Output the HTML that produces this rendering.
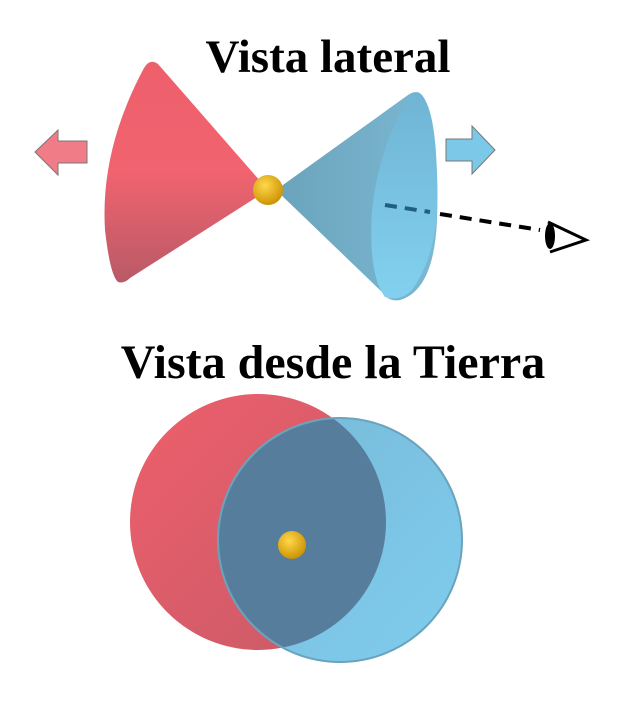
<!DOCTYPE html>
<html><head><style>body{margin:0;background:#fff}svg{display:block}</style></head><body>
<svg width="630" height="712" viewBox="0 0 630 712" xmlns="http://www.w3.org/2000/svg">
<defs>
<linearGradient id="r" x1="0" y1="0" x2="0" y2="1"><stop offset="0" stop-color="#ee5f6c"/><stop offset="0.5" stop-color="#f0636f"/><stop offset="1" stop-color="#b85a66"/></linearGradient>
<linearGradient id="b" x1="0" y1="0" x2="1" y2="0"><stop offset="0" stop-color="#6aa3bb"/><stop offset="1" stop-color="#7cb8d3"/></linearGradient>
<linearGradient id="bi" x1="0" y1="0" x2="0" y2="1"><stop offset="0" stop-color="#70b4d4"/><stop offset="1" stop-color="#82d0ef"/></linearGradient>
<radialGradient id="g" cx="0.4" cy="0.35" r="0.7"><stop offset="0" stop-color="#ffd84a"/><stop offset="1" stop-color="#c98f00"/></radialGradient>
<linearGradient id="rc" x1="0" y1="0" x2="1" y2="1"><stop offset="0" stop-color="#ee5f6c"/><stop offset="1" stop-color="#c75a67"/></linearGradient>
<linearGradient id="bc" x1="0" y1="0" x2="1" y2="1"><stop offset="0" stop-color="#78b8d6"/><stop offset="1" stop-color="#7fcdef"/></linearGradient>
<clipPath id="cr"><circle cx="258" cy="522" r="128"/></clipPath>
</defs>
<text x="328" y="72" font-family="Liberation Serif" font-weight="bold" font-size="47" text-anchor="middle">Vista lateral</text>
<polygon points="35,152 58,130 58,141 87,141 87,163 58,163 58,175" fill="#f07c87" stroke="#777" stroke-width="1"/>
<polygon points="495,150 472,126 472,139 446,139 446,161 472,161 472,174" fill="#7cc8e8" stroke="#777" stroke-width="1"/>
<path d="M268,190 L158,64 Q150,58 144,68 Q100,150 105,230 Q110,275 118,282 Q124,284 130,278 Z" fill="url(#r)"/>
<path d="M276,190 L408,95 Q418,88 424,98 Q440,140 437,220 Q434,290 400,300 Q388,302 382,292 Z" fill="url(#b)"/>
<path d="M412,95 Q380,140 372,210 Q368,275 385,297 Q400,302 412,290 Q437,255 437,200 Q438,120 424,98 Q418,88 412,95 Z" fill="url(#bi)"/>
<line x1="385" y1="205" x2="430" y2="212" stroke="#1f5f80" stroke-width="4" stroke-dasharray="12,8"/>
<line x1="440" y1="214" x2="540" y2="230" stroke="#000" stroke-width="4" stroke-dasharray="12,8"/>
<path d="M548,222 L586,240 L550,252" fill="none" stroke="#000" stroke-width="3"/>
<ellipse cx="550" cy="236" rx="5" ry="13" fill="#000"/>
<circle cx="268" cy="190" r="15" fill="url(#g)"/>
<text x="333" y="378" font-family="Liberation Serif" font-weight="bold" font-size="48" text-anchor="middle">Vista desde la Tierra</text>
<circle cx="258" cy="522" r="128" fill="url(#rc)"/>
<circle cx="340" cy="540" r="122" fill="url(#bc)" stroke="#6aa3bb" stroke-width="2"/>
<circle cx="340" cy="540" r="121" fill="#567e9c" clip-path="url(#cr)"/>
<circle cx="292" cy="545" r="14" fill="url(#g)"/>
</svg>
</body></html>
